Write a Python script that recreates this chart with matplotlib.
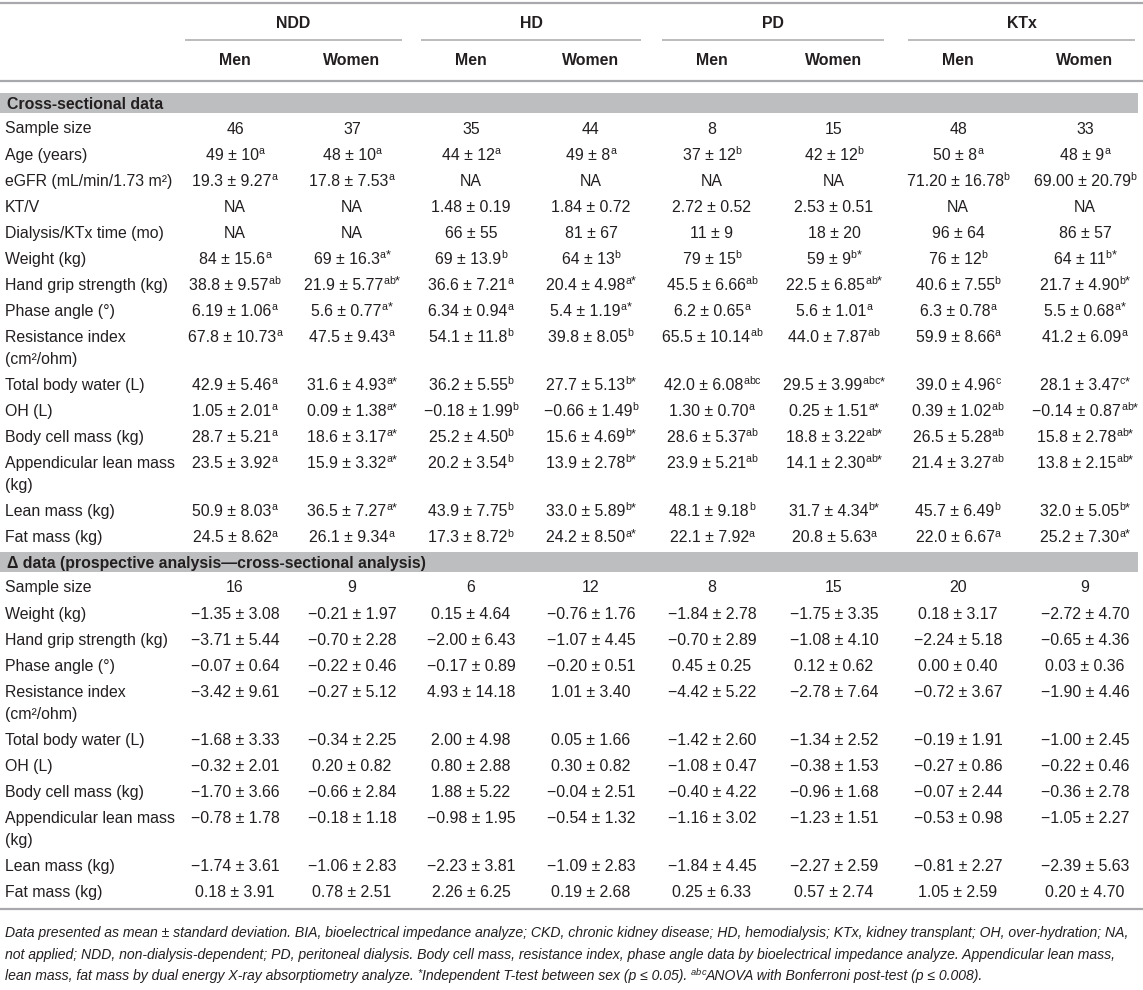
import matplotlib
matplotlib.use("Agg")
import matplotlib.pyplot as plt
from matplotlib.patches import Rectangle

# ---------------- data ----------------
groups = ["NDD", "HD", "PD", "KTx"]
sexes = ["Men", "Women"]

section_titles = ["Cross-sectional data",
                  "\u0394 data (prospective analysis\u2014cross-sectional analysis)"]

cs_labels = ["Sample size", "Age (years)", "eGFR (mL/min/1.73 m\u00b2)", "KT/V",
             "Dialysis/KTx time (mo)", "Weight (kg)", "Hand grip strength (kg)",
             "Phase angle (\u00b0)", "Resistance index\n(cm\u00b2/ohm)", "Total body water (L)",
             "OH (L)", "Body cell mass (kg)", "Appendicular lean mass\n(kg)",
             "Lean mass (kg)", "Fat mass (kg)"]

cs_ndd_men = ["46", "49 ± 10^a", "19.3 ± 9.27^a", "NA", "NA", "84 ± 15.6^a", "38.8 ± 9.57^ab",
              "6.19 ± 1.06^a", "67.8 ± 10.73^a", "42.9 ± 5.46^a", "1.05 ± 2.01^a",
              "28.7 ± 5.21^a", "23.5 ± 3.92^a", "50.9 ± 8.03^a", "24.5 ± 8.62^a"]
cs_ndd_women = ["37", "48 ± 10^a", "17.8 ± 7.53^a", "NA", "NA", "69 ± 16.3^a*", "21.9 ± 5.77^ab*",
                "5.6 ± 0.77^a*", "47.5 ± 9.43^a", "31.6 ± 4.93^a*", "0.09 ± 1.38^a*",
                "18.6 ± 3.17^a*", "15.9 ± 3.32^a*", "36.5 ± 7.27^a*", "26.1 ± 9.34^a"]
cs_hd_men = ["35", "44 ± 12^a", "NA", "1.48 ± 0.19", "66 ± 55", "69 ± 13.9^b", "36.6 ± 7.21^a",
             "6.34 ± 0.94^a", "54.1 ± 11.8^b", "36.2 ± 5.55^b", "\u22120.18 ± 1.99^b",
             "25.2 ± 4.50^b", "20.2 ± 3.54^b", "43.9 ± 7.75^b", "17.3 ± 8.72^b"]
cs_hd_women = ["44", "49 ± 8^a", "NA", "1.84 ± 0.72", "81 ± 67", "64 ± 13^b", "20.4 ± 4.98^a*",
               "5.4 ± 1.19^a*", "39.8 ± 8.05^b", "27.7 ± 5.13^b*", "\u22120.66 ± 1.49^b",
               "15.6 ± 4.69^b*", "13.9 ± 2.78^b*", "33.0 ± 5.89^b*", "24.2 ± 8.50^a*"]
cs_pd_men = ["8", "37 ± 12^b", "NA", "2.72 ± 0.52", "11 ± 9", "79 ± 15^b", "45.5 ± 6.66^ab",
             "6.2 ± 0.65^a", "65.5 ± 10.14^ab", "42.0 ± 6.08^abc", "1.30 ± 0.70^a",
             "28.6 ± 5.37^ab", "23.9 ± 5.21^ab", "48.1 ± 9.18^b", "22.1 ± 7.92^a"]
cs_pd_women = ["15", "42 ± 12^b", "NA", "2.53 ± 0.51", "18 ± 20", "59 ± 9^b*", "22.5 ± 6.85^ab*",
               "5.6 ± 1.01^a", "44.0 ± 7.87^ab", "29.5 ± 3.99^abc*", "0.25 ± 1.51^a*",
               "18.8 ± 3.22^ab*", "14.1 ± 2.30^ab*", "31.7 ± 4.34^b*", "20.8 ± 5.63^a"]
cs_ktx_men = ["48", "50 ± 8^a", "71.20 ± 16.78^b", "NA", "96 ± 64", "76 ± 12^b", "40.6 ± 7.55^b",
              "6.3 ± 0.78^a", "59.9 ± 8.66^a", "39.0 ± 4.96^c", "0.39 ± 1.02^ab",
              "26.5 ± 5.28^ab", "21.4 ± 3.27^ab", "45.7 ± 6.49^b", "22.0 ± 6.67^a"]
cs_ktx_women = ["33", "48 ± 9^a", "69.00 ± 20.79^b", "NA", "86 ± 57", "64 ± 11^b*", "21.7 ± 4.90^b*",
                "5.5 ± 0.68^a*", "41.2 ± 6.09^a", "28.1 ± 3.47^c*", "\u22120.14 ± 0.87^ab*",
                "15.8 ± 2.78^ab*", "13.8 ± 2.15^ab*", "32.0 ± 5.05^b*", "25.2 ± 7.30^a*"]

d_labels = ["Sample size", "Weight (kg)", "Hand grip strength (kg)", "Phase angle (\u00b0)",
            "Resistance index\n(cm\u00b2/ohm)", "Total body water (L)", "OH (L)",
            "Body cell mass (kg)", "Appendicular lean mass\n(kg)", "Lean mass (kg)", "Fat mass (kg)"]

M = "\u2212"
d_ndd_men = ["16", M+"1.35 ± 3.08", M+"3.71 ± 5.44", M+"0.07 ± 0.64", M+"3.42 ± 9.61", M+"1.68 ± 3.33",
             M+"0.32 ± 2.01", M+"1.70 ± 3.66", M+"0.78 ± 1.78", M+"1.74 ± 3.61", "0.18 ± 3.91"]
d_ndd_women = ["9", M+"0.21 ± 1.97", M+"0.70 ± 2.28", M+"0.22 ± 0.46", M+"0.27 ± 5.12", M+"0.34 ± 2.25",
               "0.20 ± 0.82", M+"0.66 ± 2.84", M+"0.18 ± 1.18", M+"1.06 ± 2.83", "0.78 ± 2.51"]
d_hd_men = ["6", "0.15 ± 4.64", M+"2.00 ± 6.43", M+"0.17 ± 0.89", "4.93 ± 14.18", "2.00 ± 4.98",
            "0.80 ± 2.88", "1.88 ± 5.22", M+"0.98 ± 1.95", M+"2.23 ± 3.81", "2.26 ± 6.25"]
d_hd_women = ["12", M+"0.76 ± 1.76", M+"1.07 ± 4.45", M+"0.20 ± 0.51", "1.01 ± 3.40", "0.05 ± 1.66",
              "0.30 ± 0.82", M+"0.04 ± 2.51", M+"0.54 ± 1.32", M+"1.09 ± 2.83", "0.19 ± 2.68"]
d_pd_men = ["8", M+"1.84 ± 2.78", M+"0.70 ± 2.89", "0.45 ± 0.25", M+"4.42 ± 5.22", M+"1.42 ± 2.60",
            M+"1.08 ± 0.47", M+"0.40 ± 4.22", M+"1.16 ± 3.02", M+"1.84 ± 4.45", "0.25 ± 6.33"]
d_pd_women = ["15", M+"1.75 ± 3.35", M+"1.08 ± 4.10", "0.12 ± 0.62", M+"2.78 ± 7.64", M+"1.34 ± 2.52",
              M+"0.38 ± 1.53", M+"0.96 ± 1.68", M+"1.23 ± 1.51", M+"2.27 ± 2.59", "0.57 ± 2.74"]
d_ktx_men = ["20", "0.18 ± 3.17", M+"2.24 ± 5.18", "0.00 ± 0.40", M+"0.72 ± 3.67", M+"0.19 ± 1.91",
             M+"0.27 ± 0.86", M+"0.07 ± 2.44", M+"0.53 ± 0.98", M+"0.81 ± 2.27", "1.05 ± 2.59"]
d_ktx_women = ["9", M+"2.72 ± 4.70", M+"0.65 ± 4.36", "0.03 ± 0.36", M+"1.90 ± 4.46", M+"1.00 ± 2.45",
               M+"0.22 ± 0.46", M+"0.36 ± 2.78", M+"1.05 ± 2.27", M+"2.39 ± 5.63", "0.20 ± 4.70"]

footer_lines = [
    [("Data presented as mean ± standard deviation. BIA, bioelectrical impedance analyze; CKD, chronic kidney disease; HD, hemodialysis; KTx, kidney transplant; OH, over-hydration; NA,", False)],
    [("not applied; NDD, non-dialysis-dependent; PD, peritoneal dialysis. Body cell mass, resistance index, phase angle data by bioelectrical impedance analyze. Appendicular lean mass,", False)],
    [("lean mass, fat mass by dual energy X-ray absorptiometry analyze. ", False), ("*", True),
     ("Independent T-test between sex (p \u2264 0.05). ", False), ("abc", True),
     ("ANOVA with Bonferroni post-test (p \u2264 0.008).", False)],
]

# ---------------- layout / style ----------------
W, H, DPI = 1143, 990, 100
FONT = "Liberation Sans"
TXT = "#231f20"
LINE = "#a7a9ac"
BAND = "#bcbec0"
FS = 11.4
SUP = 0.66
COL_X = [235, 352, 471, 591, 712, 834, 958, 1085]
LABEL_X = 5
ROW = 26.07
WRAP = 22.0
BASE_OFF = 5.5

fig = plt.figure(figsize=(W / DPI, H / DPI), dpi=DPI)
fig.patch.set_facecolor("white")
ax = fig.add_axes([0, 0, 1, 1])
ax.set_xlim(0, W)
ax.set_ylim(H, 0)
ax.axis("off")
renderer = fig.canvas.get_renderer()


def twidth(s, size, weight="normal", style="normal"):
    t = ax.text(0, 0, s + "l", fontsize=size, family=FONT, weight=weight, style=style)
    w1 = t.get_window_extent(renderer=renderer).width
    t.set_text("l")
    w2 = t.get_window_extent(renderer=renderer).width
    t.remove()
    return w1 - w2


def split_sup(s, size):
    # asterisk drawn a bit larger than the letters
    out = []
    for ch in s:
        out.append((ch, size * (0.8 if ch == "*" else SUP)))
    return out


def runs_width(runs, size, style="normal"):
    w = 0
    for s, sup in runs:
        if sup:
            w += sum(twidth(ch, fs, style=style) for ch, fs in split_sup(s, size))
        else:
            w += twidth(s, size, style=style)
    return w


def draw_runs(x, yb, runs, size, style="normal", weight="normal"):
    for s, sup in runs:
        if sup:
            for ch, fs in split_sup(s, size):
                yy = yb - size * (0.45 if ch == "*" else 0.52)
                ax.text(x, yy, ch, fontsize=fs, family=FONT, style=style, weight=weight,
                        color=TXT, ha="left", va="baseline")
                x += twidth(ch, fs, style=style)
        else:
            ax.text(x, yb, s, fontsize=size, family=FONT, style=style, weight=weight,
                    color=TXT, ha="left", va="baseline")
            x += twidth(s, size, style=style)


def cell(xc, y, s):
    base, _, sup = s.partition("^")
    runs = [(base, False)]
    if sup:
        runs.append((sup, True))
    w = runs_width(runs, FS)
    draw_runs(xc - w / 2, y + BASE_OFF, runs, FS)


def hline(y, x0, x1, lw):
    ax.plot([x0, x1], [y, y], color=LINE, lw=lw, solid_capstyle="butt")


# header
hline(3, 0, W, 1.6)
for gi, g in enumerate(groups):
    c0, c1 = COL_X[2 * gi], COL_X[2 * gi + 1]
    ax.text((c0 + c1) / 2, 22, g, fontsize=FS, family=FONT, weight="bold",
            color=TXT, ha="center", va="center_baseline")
    hline(40, c0 - 50, min(c1 + 50, W - 5), 1.1)
    for si, s in enumerate(sexes):
        ax.text(COL_X[2 * gi + si], 59, s, fontsize=FS, family=FONT, weight="bold",
                color=TXT, ha="center", va="center_baseline")
hline(81, 0, W, 1.6)


def section(y_band, title, labels, cols):
    ax.add_patch(Rectangle((0, y_band - 10), W - 5, 20, color=BAND, lw=0))
    ax.text(7, y_band, title, fontsize=FS, family=FONT, weight="bold",
            color=TXT, ha="left", va="center_baseline")
    y = y_band + 25
    last = y
    for ri, lab in enumerate(labels):
        parts = lab.split("\n")
        for li, p in enumerate(parts):
            ax.text(LABEL_X, y + li * WRAP + BASE_OFF, p, fontsize=FS, family=FONT,
                    color=TXT, ha="left", va="baseline")
        for ci, col in enumerate(cols):
            cell(COL_X[ci], y, col[ri])
        last = y
        y += ROW + WRAP * (len(parts) - 1)
    return last


last1 = section(103, section_titles[0], cs_labels,
                [cs_ndd_men, cs_ndd_women, cs_hd_men, cs_hd_women,
                 cs_pd_men, cs_pd_women, cs_ktx_men, cs_ktx_women])
last2 = section(last1 + 25, section_titles[1], d_labels,
                [d_ndd_men, d_ndd_women, d_hd_men, d_hd_women,
                 d_pd_men, d_pd_women, d_ktx_men, d_ktx_women])
y_bottom = last2 + 17
hline(y_bottom, 0, W, 1.6)

# footer: fit the first line to the table width
FF = 10.0
FF = FF * (W - 12) / runs_width(footer_lines[0], FF, style="italic")
for li, runs in enumerate(footer_lines):
    yc = y_bottom + 24 + li * 21.5
    draw_runs(LABEL_X, yc + 4.5, runs, FF, style="italic")

fig.savefig("out.png", dpi=DPI, facecolor="white")
